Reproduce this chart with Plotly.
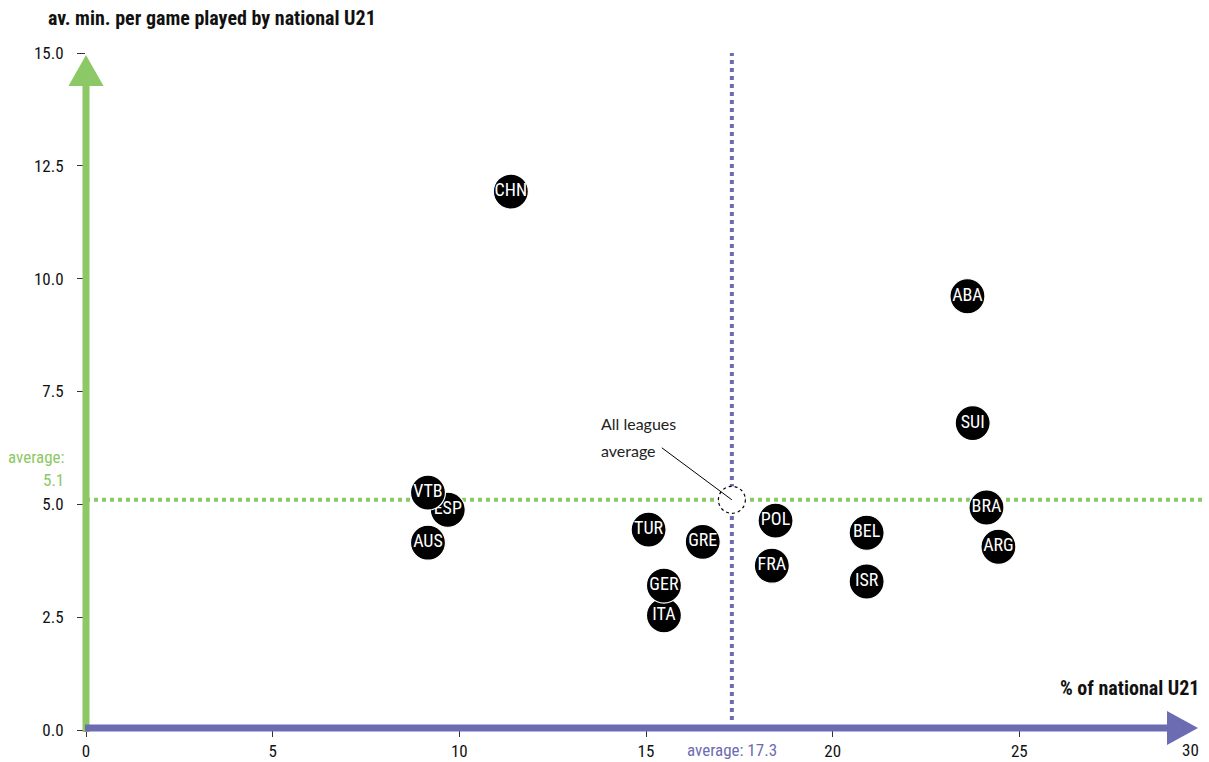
import plotly.graph_objects as go

# ---- data ----
leagues = ["CHN", "ABA", "SUI", "BRA", "ARG", "ESP", "VTB", "AUS", "TUR", "GRE",
           "ITA", "GER", "POL", "FRA", "BEL", "ISR"]
pct_u21 = [11.38, 23.61, 23.75, 24.12, 24.44, 9.69, 9.16, 9.16, 15.07, 16.52,
           15.48, 15.48, 18.47, 18.37, 20.91, 20.91]
min_u21 = [11.93, 9.61, 6.80, 4.93, 4.06, 4.88, 5.26, 4.15, 4.44, 4.17,
           2.54, 3.20, 4.64, 3.64, 4.37, 3.29]
avg_x = 17.3
avg_y = 5.1
x_ticks = [0, 5, 10, 15, 20, 25, 30]
y_ticks = [0.0, 2.5, 5.0, 7.5, 10.0, 12.5, 15.0]
x_title = "% of national U21"
y_title = "av. min. per game played by national U21"

# ---- style ----
GREEN = "#8cc865"
BLUE = "#6b6cb1"
FONT = "Roboto Condensed, Liberation Sans Narrow, Roboto, sans-serif"
W, H = 1209, 762
ML, MR, MT, MB = 86, 3, 53, 32
XR = [0, 30]
YR = [0, 15]
PW = W - ML - MR
PH = H - MT - MB
sx = PW / (XR[1] - XR[0])   # px per x unit
sy = PH / (YR[1] - YR[0])   # px per y unit


def dx(p):
    return p / sx


def dy(p):
    return p / sy


def px(p):   # pixel offset -> paper x fraction
    return p / PW


def py(p):   # pixel offset -> paper y fraction
    return p / PH


fig = go.Figure()

for name, xv, yv in zip(leagues, pct_u21, min_u21):
    fig.add_trace(go.Scatter(
        x=[xv], y=[yv], mode="markers+text", text=[name],
        textposition="middle center",
        textfont=dict(family=FONT, size=18, color="white"),
        marker=dict(size=35, color="black", line=dict(color="white", width=1.2)),
        hoverinfo="skip", showlegend=False, cliponaxis=False))

shapes = []
# dotted average lines
shapes.append(dict(type="line", xref="x", yref="y", x0=XR[0], x1=XR[1], y0=avg_y, y1=avg_y,
                   line=dict(color=GREEN, width=4, dash="4px,4px"), layer="below"))
shapes.append(dict(type="line", xref="x", yref="y", x0=avg_x, x1=avg_x, y0=dy(10), y1=YR[1],
                   line=dict(color=BLUE, width=4, dash="4px,4px"), layer="below"))
# average marker (dotted circle)
r = 13.5
shapes.append(dict(type="circle", xref="x", yref="y",
                   x0=avg_x - dx(r), x1=avg_x + dx(r), y0=avg_y - dy(r), y1=avg_y + dy(r),
                   fillcolor="white", line=dict(color="black", width=1.2, dash="dot"),
                   layer="below"))
# pointer line from text to average
shapes.append(dict(type="line", xref="x", yref="y",
                   x0=avg_x - dx(70), y0=avg_y + dy(52), x1=avg_x, y1=avg_y,
                   line=dict(color="black", width=1), layer="below"))

# y axis arrow (green), in paper coordinates so nothing is clipped
y_tip = 1 - py(2)
y_base = y_tip - py(31)
shapes.append(dict(type="line", xref="paper", yref="paper", x0=0, x1=0,
                   y0=py(-2), y1=y_base + py(1),
                   line=dict(color=GREEN, width=7), layer="above"))
shapes.append(dict(type="path", xref="paper", yref="paper",
                   path=f"M {-px(17.5)},{y_base} L {px(17.5)},{y_base} L 0,{y_tip} Z",
                   fillcolor=GREEN, line=dict(width=0), layer="above"))
# x axis arrow (blue)
x_tip = 1 - px(8)
x_base = x_tip - px(31)
x_lvl = py(2)
shapes.append(dict(type="line", xref="paper", yref="paper", x0=-px(1), x1=x_base + px(1),
                   y0=x_lvl, y1=x_lvl,
                   line=dict(color=BLUE, width=7), layer="above"))
shapes.append(dict(type="path", xref="paper", yref="paper",
                   path=f"M {x_base},{x_lvl - py(17)} L {x_base},{x_lvl + py(17)} L {x_tip},{x_lvl} Z",
                   fillcolor=BLUE, line=dict(width=0), layer="above"))

annotations = [
    dict(text=f"<b>{y_title}</b>", xref="paper", yref="paper",
         x=px(46 - ML), y=py(H - MB - 18), xanchor="left", yanchor="middle",
         showarrow=False, font=dict(family=FONT, size=20, color="#111")),
    dict(text=f"<b>{x_title}</b>", xref="paper", yref="paper",
         x=px(1201 - ML), y=py(H - MB - 688), xanchor="right", yanchor="middle",
         showarrow=False, font=dict(family=FONT, size=20, color="#111")),
    dict(text="average:", xref="paper", yref="y", x=-px(20), y=avg_y + dy(43),
         xanchor="right", yanchor="middle", showarrow=False,
         font=dict(family=FONT, size=17, color=GREEN)),
    dict(text=f"{avg_y}", xref="paper", yref="y", x=-px(20), y=avg_y + dy(20),
         xanchor="right", yanchor="middle", showarrow=False,
         font=dict(family=FONT, size=17, color=GREEN)),
    dict(text=f"average: {avg_x}", xref="x", yref="paper", x=avg_x, y=-py(20),
         xanchor="center", yanchor="middle", showarrow=False,
         font=dict(family=FONT, size=17, color=BLUE)),
    # last x tick label, pulled inside the page edge as in the reference
    dict(text=str(x_ticks[-1]), xref="paper", yref="paper", x=1 + px(-5), y=-py(20),
         xanchor="right", yanchor="middle", showarrow=False,
         font=dict(family=FONT, size=17, color="#111")),
    dict(text="All leagues", xref="x", yref="y", x=avg_x - dx(133), y=avg_y + dy(76),
         xanchor="left", yanchor="middle", showarrow=False,
         font=dict(family="Lato, Open Sans, sans-serif", size=16, color="#222")),
    dict(text="average", xref="x", yref="y", x=avg_x - dx(133), y=avg_y + dy(49),
         xanchor="left", yanchor="middle", showarrow=False,
         font=dict(family="Lato, Open Sans, sans-serif", size=16, color="#222")),
]

fig.update_layout(
    width=W, height=H,
    margin=dict(l=ML, r=MR, t=MT, b=MB, pad=0),
    paper_bgcolor="white", plot_bgcolor="white",
    shapes=shapes, annotations=annotations,
    showlegend=False,
    xaxis=dict(range=XR, tickvals=x_ticks[:-1], ticktext=[str(v) for v in x_ticks[:-1]],
               showgrid=False, zeroline=False, showline=False,
               ticks="outside", ticklen=6, tickcolor="#333", tickwidth=1,
               ticklabelstandoff=0, automargin=False,
               tickfont=dict(family=FONT, size=17, color="#111")),
    yaxis=dict(range=YR, tickvals=y_ticks, ticktext=[f"{v:.1f}" for v in y_ticks],
               showgrid=False, zeroline=False, showline=False,
               ticks="outside", ticklen=8, tickcolor="#333", tickwidth=1,
               ticklabelstandoff=10, automargin=False,
               tickfont=dict(family=FONT, size=17, color="#111")),
)

fig.write_html("out.html", config={"displayModeBar": False},
               post_script="document.body.style.margin='0';document.body.style.overflow='hidden';")
